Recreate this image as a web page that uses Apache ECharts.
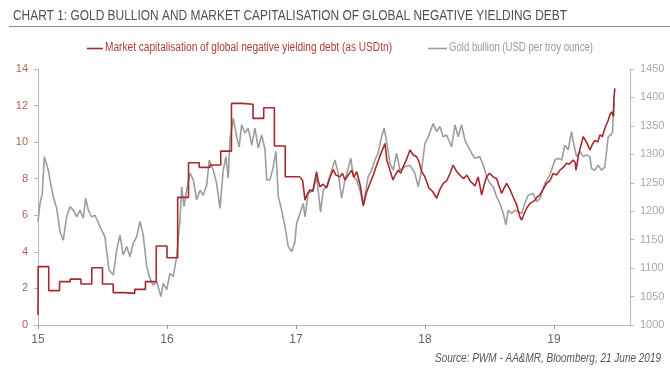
<!DOCTYPE html>
<html>
<head>
<meta charset="utf-8">
<script src="https://cdn.jsdelivr.net/npm/echarts@6/dist/echarts.min.js"></script>
<style>
html,body{margin:0;padding:0;background:#fff;}
#c{width:670px;height:373px;}
</style>
</head>
<body>
<div id="c"></div>
<script>
var titleText = 'CHART 1: GOLD BULLION AND MARKET CAPITALISATION OF GLOBAL NEGATIVE YIELDING DEBT';
var sourceText = 'Source: PWM - AA&MR, Bloomberg, 21 June 2019';
var debtName = 'Market capitalisation of global negative yielding debt (as USDtn)';
var goldName = 'Gold bullion (USD per troy ounce)';
var yearTicks = [15, 16, 17, 18, 19];

// Debt, monthly steps: [decimal year (15 = Jan 2015), USD tn]
var debtMonthly = [
  [15.000,0.55],[15.001,3.19],[15.083,1.88],[15.167,2.37],[15.250,2.51],[15.333,2.24],
  [15.417,3.13],[15.500,2.24],[15.583,1.77],[15.667,1.73],[15.750,1.95],[15.833,2.37],
  [15.917,4.32],[16.000,3.68],[16.083,6.98],[16.167,8.87],[16.250,8.62],[16.333,8.75],
  [16.417,9.51],[16.500,12.12],[16.583,12.07],[16.667,11.30],[16.750,11.88],[16.833,9.79],
  [16.917,8.11],[17.031,8.10]
];
// Debt, daily readings from 2017
var debtDaily = [
  [17.031,8.10],[17.044,8.15],[17.052,7.90],[17.070,6.83],[17.090,7.20],[17.110,7.40],
  [17.130,7.30],[17.160,8.38],[17.172,7.90],[17.186,7.56],[17.210,7.70],[17.238,7.50],
  [17.260,8.00],[17.289,8.50],[17.310,8.20],[17.341,8.10],[17.360,8.30],[17.380,7.93],
  [17.405,8.20],[17.432,8.47],[17.450,8.10],[17.471,8.38],[17.500,7.60],[17.522,6.50],
  [17.545,7.20],[17.574,7.75],[17.600,8.20],[17.626,8.75],[17.660,9.40],[17.690,9.93],
  [17.705,9.00],[17.729,8.47],[17.752,7.93],[17.770,8.20],[17.793,8.47],[17.812,8.30],
  [17.832,8.66],[17.860,9.10],[17.884,9.57],[17.910,9.30],[17.936,9.20],[17.955,8.90],
  [17.974,8.40],[18.000,8.10],[18.030,7.50],[18.060,7.30],[18.091,6.93],[18.115,7.40],
  [18.142,7.75],[18.170,7.90],[18.195,8.30],[18.219,8.75],[18.245,8.40],[18.271,8.20],
  [18.300,8.00],[18.325,8.20],[18.349,7.90],[18.388,7.60],[18.413,8.10],[18.440,7.10],
  [18.460,7.70],[18.478,8.10],[18.500,8.30],[18.530,8.10],[18.556,8.00],[18.575,7.60],
  [18.594,7.20],[18.615,7.50],[18.633,7.75],[18.660,7.40],[18.684,7.00],[18.710,6.60],
  [18.736,5.92],[18.750,5.74],[18.770,6.10],[18.790,6.40],[18.814,6.65],[18.850,6.80],
  [18.870,7.00],[18.891,7.10],[18.915,7.40],[18.943,7.75],[18.970,7.90],[18.995,8.29],
  [19.020,8.20],[19.047,8.47],[19.070,8.60],[19.098,8.84],[19.120,8.80],[19.149,9.02],
  [19.165,8.90],[19.171,8.47],[19.180,8.80],[19.188,9.20],[19.205,9.70],[19.227,10.30],
  [19.253,10.00],[19.279,9.57],[19.300,9.90],[19.318,10.10],[19.340,10.00],[19.357,10.40],
  [19.375,10.30],[19.395,10.75],[19.421,11.20],[19.435,11.50],[19.447,11.66],[19.459,11.75],
  [19.462,11.40],[19.465,12.40],[19.473,12.94]
];

// Gold: [decimal year, USD per troy ounce]
var gold = [
  [15.000,1182],[15.016,1214],[15.033,1231],[15.049,1296],[15.062,1299],[15.080,1272],
  [15.093,1255],[15.119,1225],[15.145,1205],[15.171,1164],[15.196,1149],[15.222,1190],
  [15.248,1208],[15.274,1202],[15.300,1190],[15.326,1202],[15.351,1188],[15.370,1223],
  [15.390,1202],[15.416,1190],[15.442,1193],[15.481,1173],[15.519,1155],[15.550,1097],
  [15.584,1088],[15.610,1132],[15.636,1158],[15.661,1123],[15.688,1138],[15.713,1120],
  [15.739,1144],[15.765,1155],[15.791,1182],[15.816,1158],[15.843,1102],[15.868,1082],
  [15.894,1070],[15.920,1076],[15.946,1056],[15.953,1050],[15.971,1073],[15.998,1062],
  [16.023,1091],[16.049,1085],[16.075,1120],[16.101,1185],[16.114,1243],[16.132,1208],
  [16.153,1237],[16.178,1267],[16.204,1255],[16.230,1220],[16.256,1237],[16.281,1228],
  [16.308,1246],[16.328,1290],[16.359,1272],[16.385,1249],[16.411,1205],[16.436,1272],
  [16.457,1296],[16.475,1258],[16.488,1325],[16.514,1363],[16.540,1331],[16.560,1313],
  [16.579,1352],[16.605,1337],[16.630,1346],[16.657,1316],[16.682,1346],[16.708,1311],
  [16.734,1334],[16.760,1308],[16.773,1255],[16.798,1255],[16.824,1278],[16.845,1305],
  [16.863,1226],[16.889,1202],[16.915,1173],[16.940,1138],[16.967,1129],[16.979,1126],
  [16.992,1146],[17.005,1179],[17.031,1196],[17.057,1214],[17.070,1190],[17.095,1231],
  [17.134,1237],[17.160,1261],[17.191,1199],[17.212,1237],[17.238,1243],[17.277,1272],
  [17.302,1290],[17.328,1267],[17.354,1223],[17.380,1255],[17.405,1275],[17.426,1293],
  [17.444,1261],[17.471,1255],[17.496,1237],[17.522,1211],[17.560,1261],[17.587,1272],
  [17.612,1290],[17.638,1302],[17.664,1331],[17.684,1346],[17.703,1322],[17.729,1284],
  [17.754,1272],[17.781,1302],[17.806,1272],[17.845,1278],[17.884,1281],[17.922,1267],
  [17.948,1243],[17.974,1272],[18.000,1319],[18.026,1331],[18.064,1354],[18.091,1340],
  [18.116,1349],[18.142,1331],[18.168,1334],[18.207,1313],[18.233,1352],[18.258,1331],
  [18.284,1352],[18.310,1325],[18.336,1313],[18.362,1302],[18.388,1293],[18.426,1296],
  [18.452,1281],[18.478,1261],[18.504,1249],[18.529,1243],[18.556,1225],[18.581,1214],
  [18.607,1196],[18.628,1176],[18.646,1202],[18.672,1196],[18.698,1202],[18.723,1199],
  [18.749,1196],[18.775,1214],[18.801,1228],[18.840,1231],[18.866,1217],[18.891,1222],
  [18.930,1249],[18.969,1264],[19.008,1290],[19.033,1293],[19.060,1290],[19.085,1316],
  [19.111,1308],[19.137,1340],[19.150,1322],[19.176,1296],[19.202,1305],[19.227,1296],
  [19.253,1299],[19.279,1296],[19.292,1275],[19.318,1272],[19.343,1281],[19.370,1272],
  [19.395,1278],[19.421,1331],[19.440,1334],[19.455,1340],[19.465,1392],[19.469,1385]
];

var FONT = '"Liberation Sans", Arial, sans-serif';
var RED = '#a52a2e';
var GREY = '#9d9d9d';
var AXIS = '#b8b8b8';

var ctx = document.createElement('canvas').getContext('2d');
function fit(text, font, targetWidth) {
  ctx.font = font;
  return targetWidth / ctx.measureText(text).width;
}
function condensedText(text, x, y, font, width, color) {
  return {
    type: 'text', x: x, y: y, scaleX: fit(text, font, width), scaleY: 1, silent: true,
    style: {text: text, font: font, fill: color, verticalAlign: 'middle', align: 'left'}
  };
}

var titleFont = '15px ' + FONT;
var legendFont = '12px ' + FONT;
var sourceFont = 'italic 13px ' + FONT;

var chart = echarts.init(document.getElementById('c'));
chart.setOption({
  animation: false,
  backgroundColor: '#fff',
  graphic: [
    condensedText(titleText, 13, 16, titleFont, 554, '#505050'),
    {type: 'line', silent: true, shape: {x1: 9, y1: 26.5, x2: 670, y2: 26.5}, style: {stroke: '#8a8a8a', lineWidth: 1}},
    {type: 'line', silent: true, shape: {x1: 87, y1: 48.5, x2: 103, y2: 48.5}, style: {stroke: RED, lineWidth: 1.6}},
    condensedText(debtName, 105, 48, legendFont, 287, '#ad3a3a'),
    {type: 'line', silent: true, shape: {x1: 428, y1: 48.5, x2: 447, y2: 48.5}, style: {stroke: GREY, lineWidth: 1.6}},
    condensedText(goldName, 449, 48, legendFont, 144, '#9a9a9a'),
    condensedText(sourceText, 435, 358, sourceFont, 226, '#555')
  ],
  grid: {left: 38, right: 40, top: 69, bottom: 48},
  xAxis: {
    type: 'value', min: 15, max: 19.59, interval: 1,
    axisLine: {lineStyle: {color: AXIS}},
    axisTick: {show: true, length: 4, lineStyle: {color: '#999'}, customValues: yearTicks},
    axisLabel: {margin: 9, color: '#666', fontFamily: FONT, fontSize: 12, customValues: yearTicks,
      formatter: function (v) { return String(v); }},
    splitLine: {show: false}
  },
  yAxis: [
    {
      type: 'value', min: 0, max: 14, interval: 2,
      axisLine: {show: true, lineStyle: {color: AXIS}},
      axisTick: {show: true, length: 4, lineStyle: {color: AXIS}},
      axisLabel: {margin: 10, color: '#b5615c', fontFamily: FONT, fontSize: 11},
      splitLine: {show: false}
    },
    {
      type: 'value', min: 1000, max: 1450, interval: 50, position: 'right',
      axisLine: {show: true, lineStyle: {color: AXIS}},
      axisTick: {show: true, length: 4, lineStyle: {color: AXIS}},
      axisLabel: {margin: 10, color: '#a8a8a8', fontFamily: FONT, fontSize: 11,
        formatter: function (v) { return String(v); }},
      splitLine: {show: false}
    }
  ],
  series: [
    {
      name: goldName, type: 'line', yAxisIndex: 1, data: gold,
      showSymbol: false, symbol: 'none', z: 2,
      lineStyle: {color: GREY, width: 1.6}, itemStyle: {color: GREY}
    },
    {
      name: debtName, type: 'line', yAxisIndex: 0, data: debtMonthly, step: 'end',
      showSymbol: false, symbol: 'none', z: 3,
      lineStyle: {color: RED, width: 1.6}, itemStyle: {color: RED}
    },
    {
      name: debtName, type: 'line', yAxisIndex: 0, data: debtDaily,
      showSymbol: false, symbol: 'none', z: 3,
      lineStyle: {color: RED, width: 1.6}, itemStyle: {color: RED}
    }
  ]
});
</script>
</body>
</html>
